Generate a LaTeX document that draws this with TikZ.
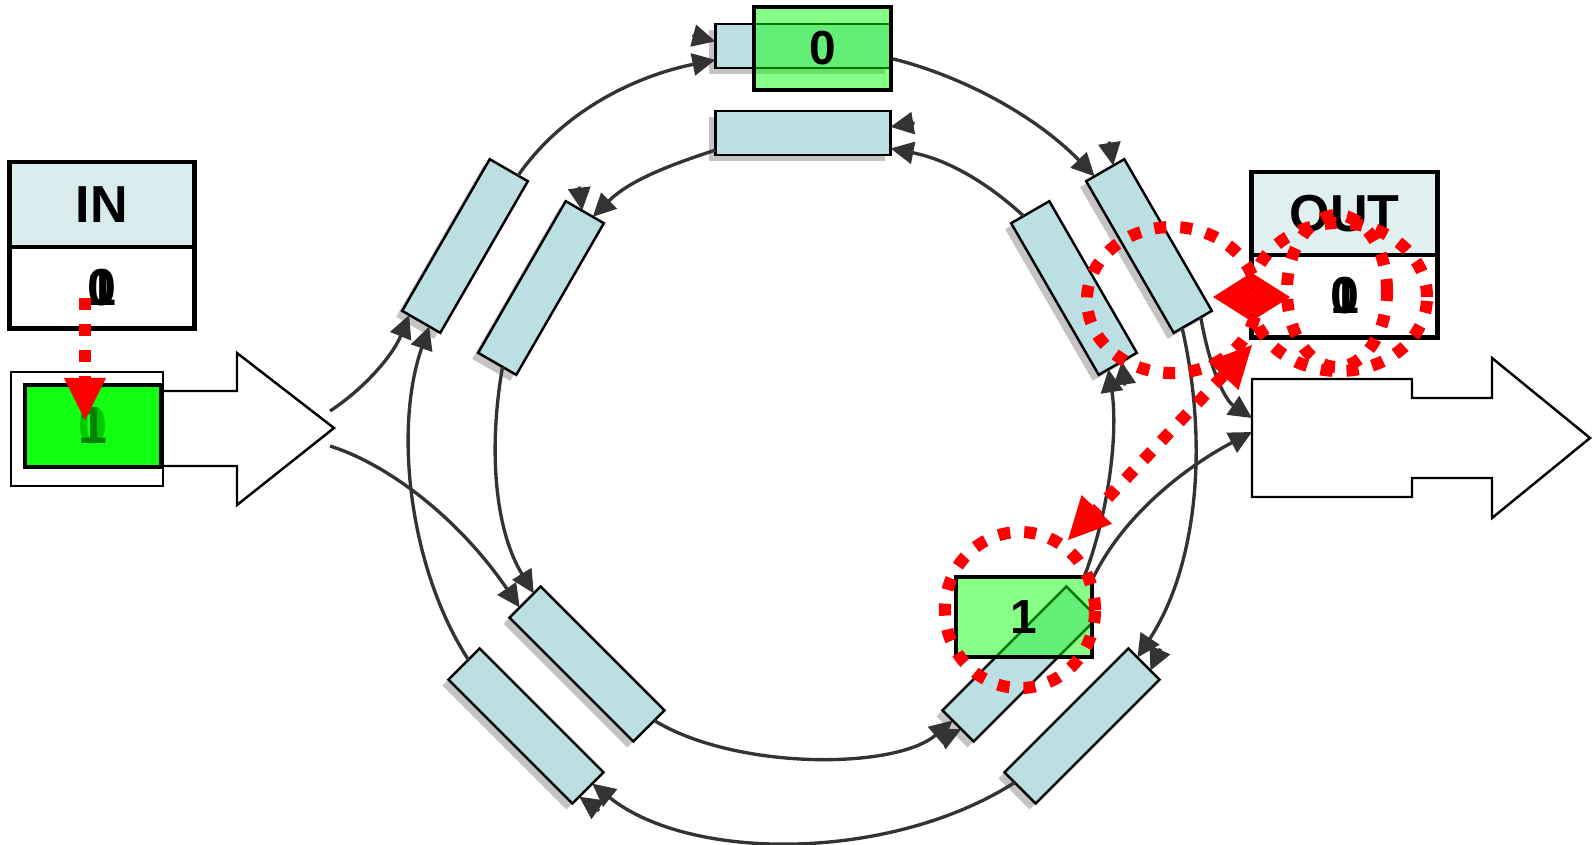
\documentclass[tikz,border=0pt]{standalone}
\usepackage{fontspec}
\setmainfont{Liberation Sans}
\usetikzlibrary{calc,arrows.meta}

\definecolor{cellblue}{RGB}{187,223,227}
\definecolor{cellshade}{RGB}{196,196,196}
\definecolor{inhead}{RGB}{216,236,238}
\definecolor{outhead}{RGB}{224,240,240}
\definecolor{linkgrey}{RGB}{51,51,51}
\definecolor{slotgreen}{RGB}{17,255,17}
\definecolor{tokengreen}{RGB}{0,255,0}
\definecolor{digitlight}{RGB}{0,200,0}
\definecolor{digitdark}{RGB}{0,130,0}

\begin{document}
\begin{tikzpicture}[x=0.01cm,y=-0.01cm]
\pgfmathsetmacro{\cellLen}{1.75}

\tikzstyle{cell}=[draw=black,line width=0.7pt,fill=cellblue,minimum width=\cellLen cm,minimum height=0.44cm,inner sep=0pt,outer sep=0pt]
\tikzstyle{cellshadow}=[cell,draw=none,fill=cellshade]
\tikzstyle{panel}=[draw=black,line width=1.4pt,minimum width=1.84cm,inner sep=0pt,font=\bfseries\fontsize{14.8}{16}\selectfont]
\tikzstyle{digit}=[inner sep=0pt,font=\bfseries\fontsize{14.8}{16}\selectfont]
\tikzstyle{token}=[draw=black,line width=1.1pt,fill=tokengreen,fill opacity=0.47,text opacity=1,inner sep=0pt,font=\bfseries\fontsize{13.6}{15}\selectfont]
\tikzstyle{link}=[draw=linkgrey,line width=0.95pt,-{Triangle[length=0.23cm,width=0.22cm]}]
\tikzstyle{hint}=[draw=red,line width=0.12cm,dash pattern=on 0.12cm off 0.14cm]
\tikzset{hinttip/.tip={Triangle[length=0.42cm,width=0.42cm,line width=0pt]},
  widetip/.tip={Triangle[length=0.38cm,width=0.48cm,line width=0pt]}}

\useasboundingbox (0,0) rectangle (1593,844);

% the two rings of cells
\foreach \name/\x/\y/\ang in {topout/803/46/0, topin/803/133/0, ulout/465/246/60, ulin/541/288/60,
    urout/1149/246/-60, urin/1074/288/-60, llout/526/726/-45, llin/587/664/-45,
    lrin/1020/664/45, lrout/1082/726/45}{
  \node[cellshadow,rotate=\ang] at (\x-6,\y+6) {};
  \node[cell,rotate=\ang] (\name) at (\x,\y) {};
}

% input side
\node[panel,fill=inhead,minimum height=0.85cm] (inhead) at (102,204.5) {IN};
\node[panel,fill=white,minimum height=0.81cm] (inval) at (102,287.5) {0};
\node[digit] at (inval) {1};

\draw[line width=0.7pt,fill=white] (163,391) -- (237,391) -- (237,353) -- (334,428) -- (237,505) -- (237,466) -- (163,466);
\coordinate (inUp) at (330,411);
\coordinate (inDown) at (330,446);
\draw[line width=0.6pt,fill=white] (11,372) rectangle (163,486);
\node[draw=black,line width=1.2pt,fill=slotgreen,minimum width=1.36cm,minimum height=0.82cm,inner sep=0pt] (slot) at (93,426) {};
\node[digit,text=digitlight] at (slot) {0};
\node[digit,text=digitdark] at (slot) {1};

% output side
\node[panel,fill=outhead,minimum width=1.85cm,minimum height=0.83cm] (outhead) at (1344.5,213.5) {OUT};
\node[panel,fill=white,minimum width=1.85cm,minimum height=0.82cm] (outval) at (1344.5,296) {0};
\node[digit] at (outval) {1};

\draw[line width=0.7pt,fill=white] (1252,379) -- (1412,379) -- (1412,398) -- (1492,398) -- (1492,358) -- (1590,438)
  -- (1492,518) -- (1492,478) -- (1412,478) -- (1412,497) -- (1252,497) -- cycle;
\coordinate (outUp) at (1252,418);
\coordinate (outDown) at (1252,432);

% outer ring, clockwise
\draw[link] (inUp) .. controls (365,388) and (393,355) .. (ulout.171);
\draw[link] (llout.176) .. controls (410,570) and (393,430) .. (ulout.186);
\draw[link] (ulout.353) .. controls (565,108) and (640,75) .. (topout.189);
\draw[link] (topout.352) .. controls (960,75) and (1035,115) .. (urout.188);
\draw[link] (urout.6) .. controls (1210,370) and (1225,400) .. (outUp);
\draw[link] (urout.352) .. controls (1210,450) and (1195,570) .. (lrout.6);
\draw[link] (lrout.175) .. controls (890,862) and (690,862) .. (llout.4);

% inner ring, anticlockwise
\draw[link] (inDown) .. controls (390,465) and (460,520) .. (llin.185);
\draw[link] (ulin.184) .. controls (488,450) and (495,530) .. (llin.172);
\draw[link] (llin.5) .. controls (735,770) and (895,770) .. (lrin.175);
\draw[link,shorten <=0.2cm] (lrin.5) .. controls (1110,510) and (1118,430) .. (urin.353);
\draw[link,shorten <=0.24cm] (lrin.east) .. controls (1120,520) and (1180,470) .. (outDown);
\draw[link] (urin.185) .. controls (990,185) and (950,160) .. (topin.350);
\draw[link] (topin.191) .. controls (670,165) and (630,180) .. (ulin.354);

% second heads
\draw[link] ($(topout.177)+(-23,-6)$) -- (topout.177);
\draw[link] ($(urout.174)+(-4,-24)$) -- (urout.174);
\draw[link] ($(lrout.354)+(10,-22)$) -- (lrout.354);
\draw[link] ($(llout.352)+(20,14)$) -- (llout.352);
\draw[link] ($(lrin.183)+(-21,10)$) -- (lrin.183);
\draw[link] ($(urin.3)+(3,24)$) -- (urin.3);
\draw[link] ($(topin.4)+(24,-4)$) -- (topin.4);
\draw[link] ($(ulin.2)+(-3,-24)$) -- (ulin.2);

% tokens
\node[token,minimum width=1.37cm,minimum height=0.83cm] (tokTop) at (822.5,48.5) {0};
\node[token,minimum width=1.36cm,minimum height=0.80cm] (tokRing) at (1024,617) {1};

% red marks
\coordinate (hintInA) at (85,298);
\coordinate (hintInB) at (85,420);
\draw[hint,-hinttip] (hintInA) -- (hintInB);

\draw[hint] (1172,300) ellipse [x radius=0.85cm,y radius=0.73cm];
\draw[hint] (1339,297) ellipse [x radius=0.88cm,y radius=0.74cm];
\draw[hint] (1337,291) ellipse [x radius=0.5cm,y radius=0.76cm];
\draw[hint] (1020,610) ellipse [x radius=0.75cm,y radius=0.78cm];

\coordinate (hintOutA) at (1252,345);
\coordinate (hintOutB) at (1068,540);
\draw[hint,hinttip-hinttip] (hintOutA) -- (hintOutB);
\coordinate (hintMidA) at (1213,297);
\coordinate (hintMidB) at (1290,297);
\draw[hint,widetip-widetip] (hintMidA) -- (hintMidB);
\end{tikzpicture}
\end{document}
